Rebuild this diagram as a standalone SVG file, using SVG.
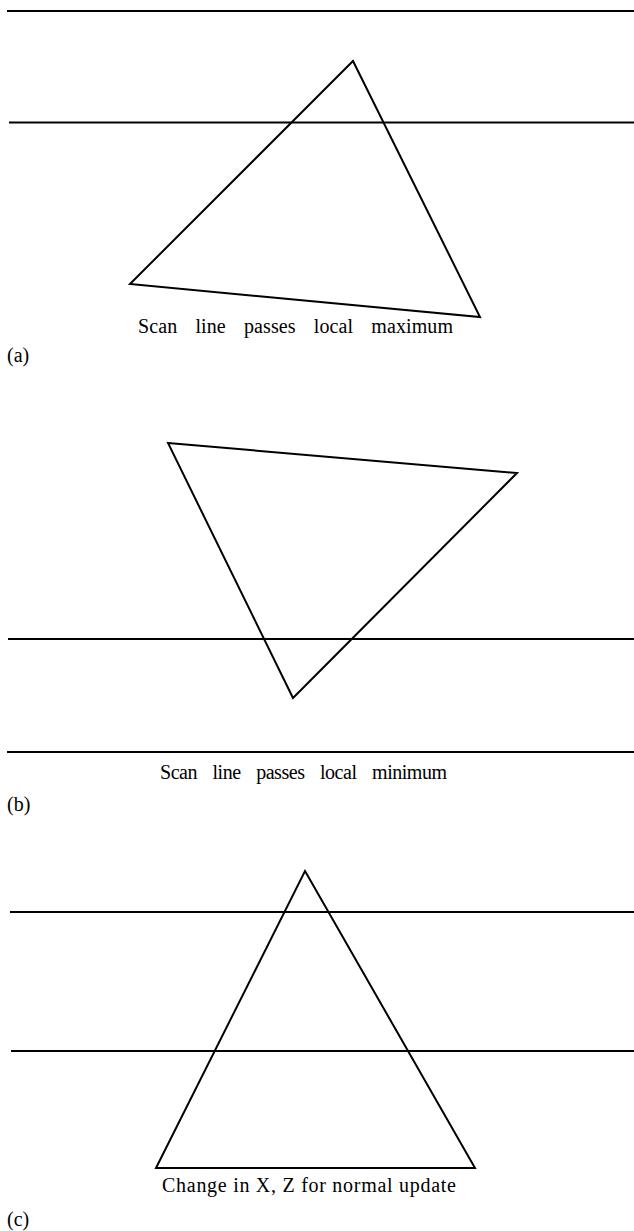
<svg xmlns="http://www.w3.org/2000/svg" width="634" height="1231" viewBox="0 0 634 1231">
<style>
.scan{stroke:#000;stroke-width:2.2;fill:none}
.tri{stroke:#000;stroke-width:2;fill:none;stroke-linejoin:miter}
.lbl{font-family:"Liberation Serif","Times New Roman",serif;font-size:20px;fill:#000}
</style>
<rect width="634" height="1231" fill="#fff"/>
<g id="panel-a">
<line class="scan" x1="7" y1="11" x2="634" y2="11"/>
<line class="scan" x1="9" y1="122.5" x2="634" y2="122.5"/>
<polygon id="tri-a" class="tri" points="353,61 480,317 130,284"/>
<text class="lbl" x="138" y="333" textLength="315" lengthAdjust="spacing" word-spacing="13">Scan line passes local maximum</text>
<text class="lbl" x="7" y="362">(a)</text>
</g>
<g id="panel-b">
<polygon id="tri-b" class="tri" points="168,443 517,473 293,698"/>
<line class="scan" x1="8" y1="639" x2="634" y2="639"/>
<line class="scan" x1="7" y1="752" x2="634" y2="752"/>
<text class="lbl" x="160" y="779" font-size="19" textLength="287" lengthAdjust="spacing" word-spacing="11">Scan line passes local minimum</text>
<text class="lbl" x="7" y="811">(b)</text>
</g>
<g id="panel-c">
<line class="scan" x1="10" y1="912" x2="634" y2="912"/>
<line class="scan" x1="11" y1="1051" x2="634" y2="1051"/>
<polygon id="tri-c" class="tri" points="305,871 475,1168 156,1168"/>
<text class="lbl" x="162" y="1192" textLength="294" lengthAdjust="spacing">Change in <tspan>X,</tspan> Z for normal update</text>
<text class="lbl" x="7" y="1226">(c)</text>
</g>
</svg>
